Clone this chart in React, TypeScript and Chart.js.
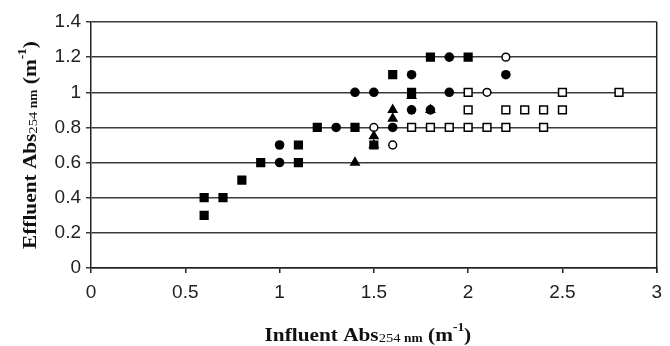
import React, { useEffect, useRef } from "react";
import { Chart, registerables } from "chart.js";

Chart.register(...registerables);

// ---- data ----
const filledSquaresX = [0.6, 0.6, 0.7, 0.8, 0.9, 1.1, 1.1, 1.2, 1.4, 1.5, 1.6, 1.7, 1.8, 2.0];
const filledSquaresY = [0.4, 0.3, 0.4, 0.5, 0.6, 0.6, 0.7, 0.8, 0.8, 0.7, 1.1, 1.0, 1.2, 1.2];

const filledCirclesX = [1.0, 1.0, 1.3, 1.4, 1.5, 1.6, 1.7, 1.7, 1.8, 1.9, 1.9, 2.2];
const filledCirclesY = [0.7, 0.6, 0.8, 1.0, 1.0, 0.8, 1.1, 0.9, 0.9, 1.2, 1.0, 1.1];

const trianglesX = [1.4, 1.5, 1.5, 1.6, 1.6, 1.7, 1.8];
const trianglesY = [0.6, 0.75, 0.7, 0.9, 0.85, 0.98, 0.9];

const openCirclesX = [1.5, 1.6, 2.1, 2.2];
const openCirclesY = [0.8, 0.7, 1.0, 1.2];

const openSquaresX = [1.7, 1.8, 1.9, 2.0, 2.1, 2.2, 2.4, 2.0, 2.2, 2.3, 2.4, 2.5, 2.0, 2.5, 2.8];
const openSquaresY = [0.8, 0.8, 0.8, 0.8, 0.8, 0.8, 0.8, 0.9, 0.9, 0.9, 0.9, 0.9, 1.0, 1.0, 1.0];

const xTicks = [0, 0.5, 1, 1.5, 2, 2.5, 3];
const xTickLabels = ["0", "0.5", "1", "1.5", "2", "2.5", "3"];
const yTicks = [0, 0.2, 0.4, 0.6, 0.8, 1.0, 1.2, 1.4];
const yTickLabels = ["0", "0.2", "0.4", "0.6", "0.8", "1", "1.2", "1.4"];

const xTitleMain = "Influent Abs";
const yTitleMain = "Effluent Abs";
const titleSub1 = "254 ";
const titleSub2 = "nm";
const titleUnitOpen = " (m";
const titleSup = "-1";
const titleUnitClose = ")";

const pts = (xs: number[], ys: number[]) => xs.map((x, i) => ({ x, y: ys[i] }));

const SERIF = '"Liberation Serif", "Times New Roman", serif';
const SANS = '"Liberation Sans", Arial, sans-serif';

type Seg = { text: string; font: string; dy: number };

function titleSegments(main: string): Seg[] {
  return [
    { text: main, font: `bold 19px ${SERIF}`, dy: 0 },
    { text: titleSub1, font: `13px ${SERIF}`, dy: 1 },
    { text: titleSub2, font: `bold 12px ${SERIF}`, dy: 1 },
    { text: titleUnitOpen, font: `bold 19px ${SERIF}`, dy: 0 },
    { text: titleSup, font: `bold 12px ${SERIF}`, dy: -10 },
    { text: titleUnitClose, font: `bold 19px ${SERIF}`, dy: 0 },
  ];
}

function drawSegments(ctx: CanvasRenderingContext2D, segs: Seg[]) {
  let total = 0;
  for (const s of segs) {
    ctx.font = s.font;
    total += ctx.measureText(s.text).width;
  }
  ctx.scale(1.12, 1);
  let x = -total / 2;
  ctx.textBaseline = "alphabetic";
  ctx.textAlign = "left";
  ctx.fillStyle = "#111";
  for (const s of segs) {
    ctx.font = s.font;
    ctx.fillText(s.text, x, s.dy);
    x += ctx.measureText(s.text).width;
  }
}

const titlesPlugin = {
  id: "customTitles",
  afterDraw(chart: any) {
    const { ctx, chartArea } = chart;
    ctx.save();
    // right border
    ctx.strokeStyle = "#222";
    ctx.lineWidth = 1.5;
    ctx.beginPath();
    ctx.moveTo(chartArea.right, chartArea.top);
    ctx.lineTo(chartArea.right, chartArea.bottom + 5);
    ctx.stroke();
    ctx.restore();

    // x title
    ctx.save();
    ctx.translate((chartArea.left + chartArea.right) / 2 - 6, 341);
    drawSegments(ctx, titleSegments(xTitleMain));
    ctx.restore();

    // y title
    ctx.save();
    ctx.translate(36, (chartArea.top + chartArea.bottom) / 2);
    ctx.rotate(-Math.PI / 2);
    drawSegments(ctx, titleSegments(yTitleMain));
    ctx.restore();
  },
};

export default function App() {
  const ref = useRef<HTMLCanvasElement | null>(null);

  useEffect(() => {
    if (!ref.current) return;
    const chart = new Chart(ref.current, {
      type: "scatter",
      data: {
        datasets: [
          {
            label: "filled squares",
            data: pts(filledSquaresX, filledSquaresY),
            pointStyle: "rect",
            pointRadius: 6.5,
            backgroundColor: "#000",
            borderColor: "#000",
            borderWidth: 0,
          },
          {
            label: "filled circles",
            data: pts(filledCirclesX, filledCirclesY),
            pointStyle: "circle",
            pointRadius: 4.8,
            backgroundColor: "#000",
            borderColor: "#000",
            borderWidth: 0,
          },
          {
            label: "triangles",
            data: pts(trianglesX, trianglesY),
            pointStyle: "triangle",
            pointRadius: 6.3,
            backgroundColor: "#000",
            borderColor: "#000",
            borderWidth: 0,
          },
          {
            label: "open circles",
            data: pts(openCirclesX, openCirclesY),
            pointStyle: "circle",
            pointRadius: 3.9,
            backgroundColor: "#fff",
            borderColor: "#000",
            borderWidth: 1.5,
          },
          {
            label: "open squares",
            data: pts(openSquaresX, openSquaresY),
            pointStyle: "rect",
            pointRadius: 5.5,
            backgroundColor: "#fff",
            borderColor: "#000",
            borderWidth: 1.5,
          },
        ],
      },
      options: {
        responsive: false,
        animation: false,
        events: [],
        layout: { padding: { top: 22, right: 8, left: 0, bottom: 0 } },
        plugins: {
          legend: { display: false },
          tooltip: { enabled: false },
          title: { display: false },
        },
        scales: {
          x: {
            type: "linear",
            min: 0,
            max: 3,
            afterBuildTicks: (scale: any) => {
              scale.ticks = xTicks.map((v) => ({ value: v }));
            },
            afterFit: (scale: any) => {
              scale.height = 78;
            },
            ticks: {
              font: { family: SANS, size: 19 },
              color: "#222",
              padding: 8,
              maxRotation: 0,
              autoSkip: false,
              callback: (_v: any, i: number) => xTickLabels[i],
            },
            grid: {
              display: true,
              drawOnChartArea: false,
              drawTicks: true,
              tickLength: 5,
              color: "#222",
              lineWidth: 1.5,
            },
            border: { display: true, color: "#222", width: 1.5 },
          },
          y: {
            type: "linear",
            min: 0,
            max: 1.4,
            afterBuildTicks: (scale: any) => {
              scale.ticks = yTicks.map((v) => ({ value: v }));
            },
            afterFit: (scale: any) => {
              scale.width = 91;
            },
            ticks: {
              font: { family: SANS, size: 19 },
              color: "#222",
              padding: 5,
              autoSkip: false,
              callback: (_v: any, i: number) => yTickLabels[i],
            },
            grid: {
              display: true,
              drawOnChartArea: true,
              drawTicks: true,
              tickLength: 5,
              color: "#3a3a3a",
              lineWidth: 1.5,
            },
            border: { display: true, color: "#222", width: 1.5 },
          },
        },
      },
      plugins: [titlesPlugin],
    } as any);
    return () => chart.destroy();
  }, []);

  return (
    <div style={{ position: "fixed", left: 0, top: 0, width: 670, height: 346, background: "#fff" }}>
      <canvas ref={ref} width={670} height={346} style={{ display: "block" }} />
    </div>
  );
}
